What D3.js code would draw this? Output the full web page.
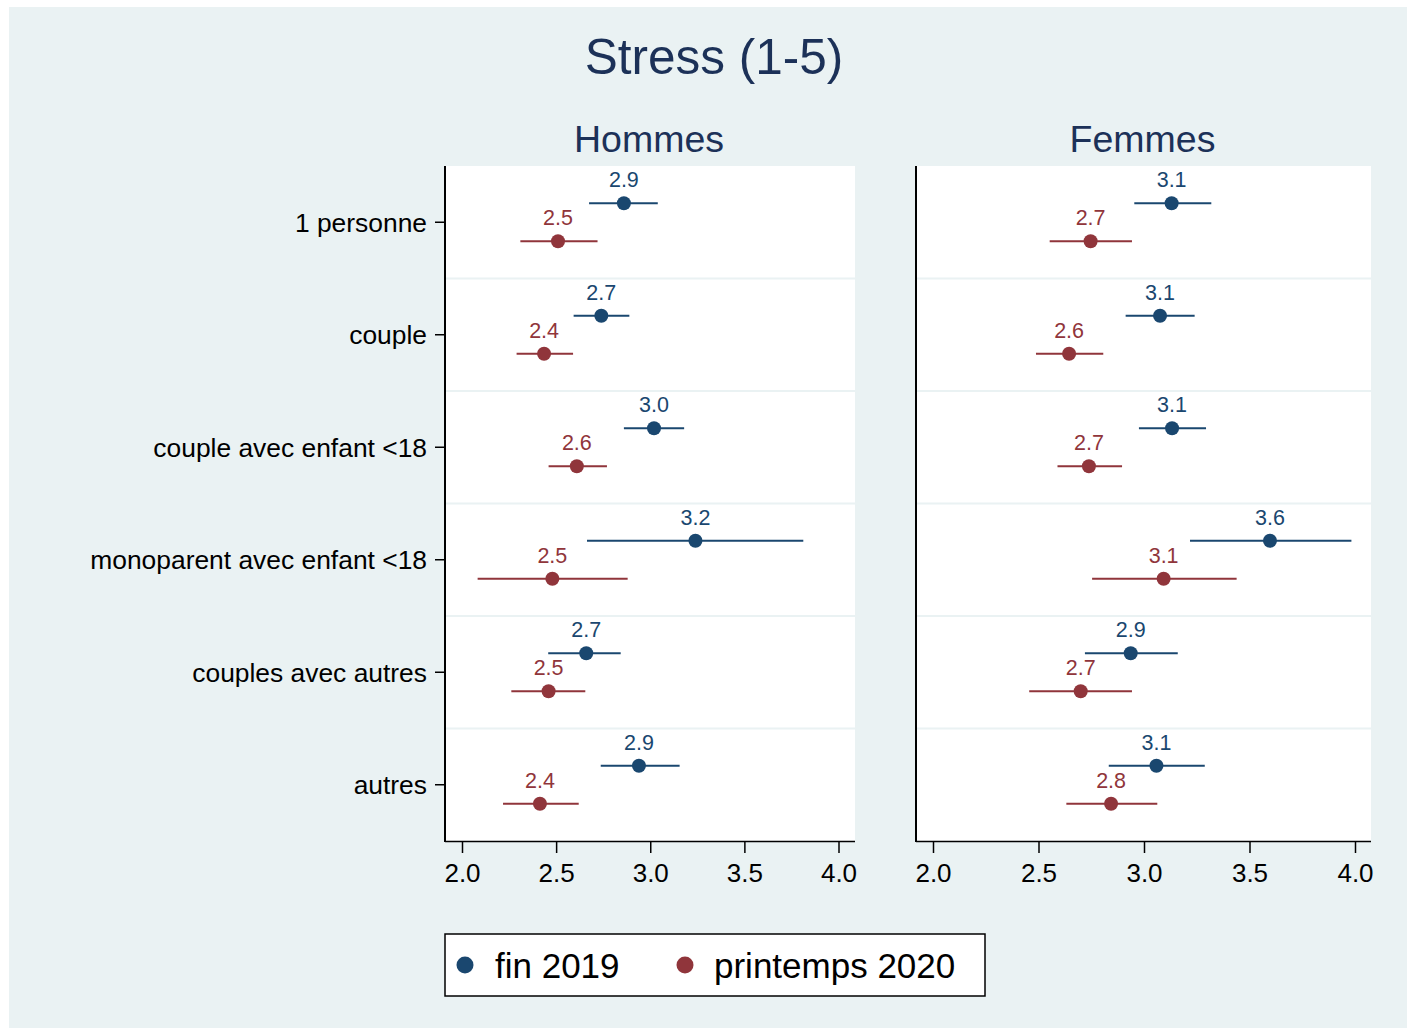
<!DOCTYPE html>
<html>
<head>
<meta charset="utf-8">
<script src="https://cdn.jsdelivr.net/npm/d3@7"></script>
<style>
  html, body { margin: 0; padding: 0; background: #ffffff; }
  svg { display: block; font-family: "Liberation Sans", Arial, sans-serif; }
</style>
</head>
<body>
<svg id="chart" width="1407" height="1028"></svg>
<script>
// ---------------- DATA ----------------
const categories = ["1 personne", "couple", "couple avec enfant <18", "monoparent avec enfant <18", "couples avec autres", "autres"];
const panels = ["Hommes", "Femmes"];
const seriesNames = ["fin 2019", "printemps 2020"];
const xTicks = [2.0, 2.5, 3.0, 3.5, 4.0];

// Hommes
const hommes2019     = [2.86, 2.74, 3.02, 3.24, 2.66, 2.94];
const hommes2019Lo   = [2.675, 2.593, 2.86, 2.664, 2.458, 2.737];
const hommes2019Hi   = [3.04, 2.889, 3.18, 3.813, 2.843, 3.156];
const hommes2020     = [2.51, 2.436, 2.61, 2.48, 2.46, 2.414];
const hommes2020Lo   = [2.31, 2.29, 2.46, 2.083, 2.262, 2.218];
const hommes2020Hi   = [2.72, 2.59, 2.77, 2.88, 2.655, 2.62];

// Femmes
const femmes2019     = [3.131, 3.076, 3.133, 3.597, 2.937, 3.059];
const femmes2019Lo   = [2.954, 2.913, 2.976, 3.218, 2.72, 2.833];
const femmes2019Hi   = [3.319, 3.24, 3.294, 3.983, 3.16, 3.288];
const femmes2020     = [2.747, 2.645, 2.739, 3.093, 2.70, 2.844];
const femmes2020Lo   = [2.553, 2.488, 2.59, 2.754, 2.456, 2.632];
const femmes2020Hi   = [2.943, 2.807, 2.896, 3.439, 2.943, 3.063];

// ---------------- STYLE ----------------
const colors = ["#1a476f", "#90353b"];
const bg = "#eaf2f3";
const titleColor = "#1c3158";

const svg = d3.select("#chart");
svg.append("rect").attr("x", 9).attr("y", 7).attr("width", 1407 - 9).attr("height", 1028 - 7).attr("fill", bg);

// Title
svg.append("text").attr("x", 714).attr("y", 74).attr("text-anchor", "middle")
  .attr("font-size", 49.5).attr("fill", titleColor).text("Stress (1-5)");

const plotTop = 166, plotBottom = 841;
const panelDefs = [
  { name: panels[0], x0: 445, x1: 855, p2: 462, p4: 838.5,
    s: [[hommes2019, hommes2019Lo, hommes2019Hi], [hommes2020, hommes2020Lo, hommes2020Hi]] },
  { name: panels[1], x0: 916, x1: 1371, p2: 933, p4: 1355,
    s: [[femmes2019, femmes2019Lo, femmes2019Hi], [femmes2020, femmes2020Lo, femmes2020Hi]] }
];

const y = d3.scaleBand().domain(categories).range([plotTop, plotBottom]).paddingInner(0).paddingOuter(0);
const offsets = [-19, 19];

panelDefs.forEach((pd, pi) => {
  const x = d3.scaleLinear().domain([2, 4]).range([pd.p2, pd.p4]);
  const g = svg.append("g");
  g.append("rect").attr("x", pd.x0).attr("y", plotTop).attr("width", pd.x1 - pd.x0).attr("height", plotBottom - plotTop).attr("fill", "#ffffff");

  // row separators
  categories.slice(1).forEach(c => {
    g.append("line").attr("x1", pd.x0).attr("x2", pd.x1)
      .attr("y1", y(c)).attr("y2", y(c)).attr("stroke", bg).attr("stroke-width", 2);
  });

  // panel title
  svg.append("text").attr("x", (pd.x0 + pd.x1) / 2 - 1).attr("y", 152).attr("text-anchor", "middle")
    .attr("font-size", 37.5).attr("fill", titleColor).text(pd.name);

  // x axis
  const xAxis = d3.axisBottom(x).tickValues(xTicks).tickFormat(d3.format(".1f")).tickSize(12).tickSizeOuter(0);
  const ax = svg.append("g").attr("transform", `translate(0,${plotBottom})`).call(xAxis);
  ax.select(".domain").remove();
  ax.append("line").attr("x1", pd.x0).attr("x2", pd.x1).attr("y1", 0.5).attr("y2", 0.5).attr("stroke", "#000").attr("stroke-width", 1.5);
  ax.selectAll(".tick line").attr("stroke", "#000").attr("stroke-width", 1.5);
  ax.selectAll(".tick text").attr("font-size", 26).attr("fill", "#000").attr("dy", 0).attr("y", 41)
    .attr("font-family", "'Liberation Sans', Arial, sans-serif");

  // y axis line
  svg.append("line").attr("x1", pd.x0).attr("x2", pd.x0).attr("y1", plotTop).attr("y2", plotBottom + 1)
    .attr("stroke", "#000").attr("stroke-width", 2);

  if (pi === 0) {
    const yAxis = d3.axisLeft(y).tickSize(10).tickSizeOuter(0);
    const ay = svg.append("g").attr("transform", `translate(${pd.x0},0)`).call(yAxis);
    ay.select(".domain").remove();
    ay.selectAll(".tick line").attr("stroke", "#000").attr("stroke-width", 1.5);
    ay.selectAll(".tick text").attr("font-size", 26.4).attr("fill", "#000").attr("x", -18).attr("dy", "0.35em")
      .attr("font-family", "'Liberation Sans', Arial, sans-serif");
  }

  // series
  pd.s.forEach((ser, si) => {
    const [vals, lo, hi] = ser;
    categories.forEach((c, i) => {
      const cy = y(c) + y.bandwidth() / 2 + offsets[si];
      g.append("line").attr("x1", x(lo[i])).attr("x2", x(hi[i])).attr("y1", cy).attr("y2", cy)
        .attr("stroke", colors[si]).attr("stroke-width", 2);
      g.append("circle").attr("cx", x(vals[i])).attr("cy", cy).attr("r", 7).attr("fill", colors[si]);
      g.append("text").attr("x", x(vals[i])).attr("y", cy - 16).attr("text-anchor", "middle")
        .attr("font-size", 21.5).attr("fill", colors[si]).text(vals[i].toFixed(1));
    });
  });
});

// Legend
const lg = svg.append("g");
lg.append("rect").attr("x", 445).attr("y", 934).attr("width", 540).attr("height", 62)
  .attr("fill", "#ffffff").attr("stroke", "#000").attr("stroke-width", 1.5);
const legendItems = [
  { name: seriesNames[0], mx: 465, tx: 495 },
  { name: seriesNames[1], mx: 685, tx: 714 }
];
legendItems.forEach((it, i) => {
  lg.append("circle").attr("cx", it.mx).attr("cy", 965).attr("r", 8.5).attr("fill", colors[i]);
  lg.append("text").attr("x", it.tx).attr("y", 978).attr("font-size", 35).attr("fill", "#000").text(it.name);
});
</script>
</body>
</html>
